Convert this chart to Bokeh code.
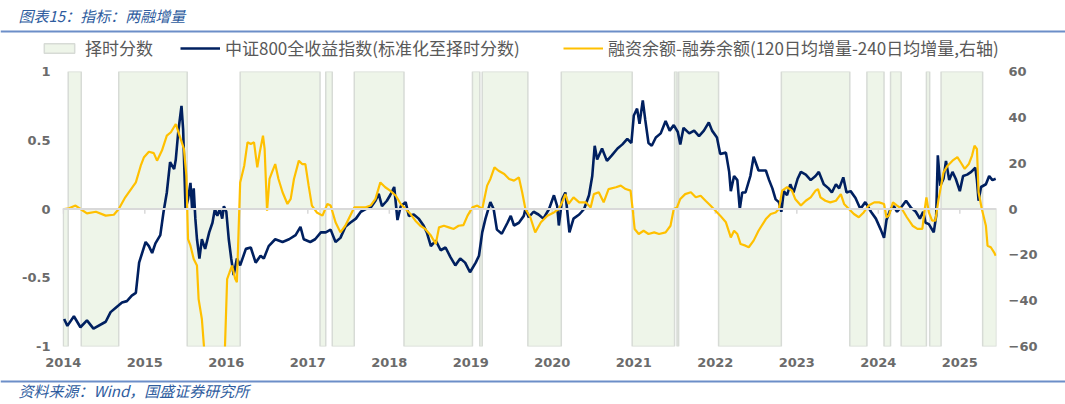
from bokeh.plotting import figure
from bokeh.layouts import column
from bokeh.models import (Range1d, LinearAxis, FixedTicker, Span, Label, Legend,
                          LegendItem, BoxAnnotation, ColumnDataSource)
from bokeh.embed import file_html
from bokeh.resources import INLINE

# ---------------- data ----------------
# timing score regime changes (decimal year) and score value (+1 / -1)
score_dates = [2014.00, 2014.06, 2014.22, 2014.68, 2015.52, 2016.17, 2017.15, 2017.22,
               2017.30, 2017.57, 2018.18, 2019.02, 2019.11, 2019.14, 2019.70, 2020.11,
               2020.98, 2021.50, 2021.53, 2021.55, 2022.04, 2022.81, 2023.65, 2023.86,
               2024.07, 2024.15, 2024.28, 2024.59, 2024.63, 2024.77, 2025.28]
score_sign = [-1, 1, -1, 1, -1, 1, -1, 1, -1, 1, -1, 1, -1, 1, -1, 1,
              -1, 1, -1, 1, -1, 1, -1, 1, -1, 1, -1, 1, -1, 1, -1]
score_end = 2025.45

# CSI 800 total return index, normalised to the score scale (left axis)
csi_t = [2014.01, 2014.05, 2014.13, 2014.21, 2014.29, 2014.37, 2014.52, 2014.58, 2014.64, 2014.72,
         2014.78, 2014.84, 2014.89, 2014.93, 2015.01, 2015.05, 2015.09, 2015.13, 2015.19, 2015.23,
         2015.27, 2015.31, 2015.36, 2015.38, 2015.41, 2015.45, 2015.47, 2015.50, 2015.53, 2015.56,
         2015.58, 2015.60, 2015.62, 2015.64, 2015.67, 2015.70, 2015.74, 2015.79, 2015.83, 2015.86,
         2015.89, 2015.92, 2015.95, 2015.97, 2016.00, 2016.03, 2016.06, 2016.09, 2016.13, 2016.17,
         2016.24, 2016.30, 2016.36, 2016.42, 2016.46, 2016.52, 2016.60, 2016.69, 2016.77,
         2016.85, 2016.91, 2016.95, 2017.03, 2017.09, 2017.16, 2017.22, 2017.28, 2017.34, 2017.40,
         2017.46, 2017.52, 2017.59, 2017.65, 2017.71, 2017.77, 2017.83, 2017.87, 2017.91, 2017.97,
         2018.01, 2018.06, 2018.10, 2018.14, 2018.20, 2018.24, 2018.30, 2018.36, 2018.42, 2018.46,
         2018.51, 2018.57, 2018.63, 2018.69, 2018.75, 2018.81, 2018.87, 2018.93, 2018.99, 2019.06,
         2019.10, 2019.14, 2019.18, 2019.24, 2019.28, 2019.32, 2019.38, 2019.45, 2019.49, 2019.53,
         2019.59, 2019.65, 2019.67, 2019.71, 2019.77, 2019.83, 2019.89, 2019.96, 2020.02, 2020.06,
         2020.08, 2020.12, 2020.16, 2020.21, 2020.26, 2020.33, 2020.39, 2020.45, 2020.49, 2020.52,
         2020.55, 2020.61, 2020.67, 2020.73, 2020.80, 2020.86, 2020.92, 2020.97, 2021.00, 2021.04,
         2021.07, 2021.11, 2021.14, 2021.18, 2021.22, 2021.27, 2021.33, 2021.39, 2021.44, 2021.49,
         2021.54, 2021.57, 2021.61, 2021.68, 2021.74, 2021.80, 2021.86, 2021.92, 2021.96, 2022.02,
         2022.06, 2022.13, 2022.17, 2022.19, 2022.23, 2022.27, 2022.30, 2022.33, 2022.37, 2022.43,
         2022.47, 2022.53, 2022.62, 2022.66, 2022.70, 2022.74, 2022.78, 2022.81, 2022.84, 2022.88,
         2022.92, 2022.96, 2023.01, 2023.05, 2023.11, 2023.17, 2023.23, 2023.27, 2023.33, 2023.39,
         2023.43, 2023.48, 2023.52, 2023.57, 2023.61, 2023.66, 2023.72, 2023.78, 2023.84, 2023.91,
         2023.97, 2024.03, 2024.07, 2024.10, 2024.15, 2024.19, 2024.23, 2024.29, 2024.34, 2024.40,
         2024.46, 2024.51, 2024.55, 2024.58, 2024.62, 2024.68, 2024.71, 2024.73, 2024.76, 2024.80,
         2024.83, 2024.87, 2024.91, 2024.95, 2025.00, 2025.04, 2025.09, 2025.14, 2025.19, 2025.21,
         2025.23, 2025.26, 2025.32, 2025.36, 2025.40, 2025.44]
csi_v = [-0.80, -0.85, -0.78, -0.86, -0.81, -0.87, -0.82, -0.75, -0.72, -0.68,
         -0.67, -0.63, -0.61, -0.39, -0.24, -0.27, -0.32, -0.25, -0.19, -0.02,
         0.12, 0.34, 0.29, 0.36, 0.56, 0.75, 0.58, 0.00, 0.07, 0.19,
         0.00, 0.15, -0.07, -0.22, -0.36, -0.22, -0.29, -0.17, -0.10, 0.00,
         -0.05, 0.00, -0.07, 0.02, -0.02, -0.22, -0.36, -0.48, -0.36, -0.41,
         -0.29, -0.28, -0.39, -0.34, -0.36, -0.27, -0.22, -0.24, -0.22,
         -0.19, -0.13, -0.22, -0.24, -0.22, -0.17, -0.17, -0.15, -0.24, -0.21,
         -0.13, -0.10, -0.07, -0.02, 0.00, 0.01, 0.06, 0.11, 0.02, 0.06,
         0.10, 0.16, -0.08, 0.02, 0.05, -0.05, -0.04, -0.07, -0.12, -0.17,
         -0.27, -0.23, -0.30, -0.28, -0.35, -0.41, -0.36, -0.39, -0.46, -0.39,
         -0.34, -0.17, -0.07, 0.05, 0.00, -0.15, -0.18, -0.10, -0.05, -0.12,
         -0.10, -0.05, 0.00, -0.06, -0.02, -0.04, -0.07, 0.00, 0.10, 0.02,
         -0.12, 0.07, 0.12, -0.17, -0.07, -0.04, 0.00, 0.10, 0.24, 0.46,
         0.36, 0.44, 0.35, 0.39, 0.44, 0.47, 0.51, 0.48, 0.68, 0.73,
         0.62, 0.79, 0.65, 0.48, 0.46, 0.52, 0.55, 0.64, 0.57, 0.61,
         0.56, 0.47, 0.59, 0.55, 0.57, 0.53, 0.57, 0.63, 0.57, 0.52,
         0.40, 0.41, 0.27, 0.13, 0.24, 0.21, 0.00, 0.12, 0.12, 0.24,
         0.38, 0.28, 0.28, 0.21, 0.15, 0.07, 0.05, -0.02, 0.13, 0.10,
         0.18, 0.12, 0.22, 0.27, 0.25, 0.21, 0.24, 0.27, 0.18, 0.15,
         0.12, 0.18, 0.15, 0.23, 0.12, 0.13, 0.08, 0.00, 0.05, -0.02,
         -0.07, -0.15, -0.21, -0.08, 0.00, 0.02, -0.02, 0.02, 0.06, 0.01,
         -0.02, -0.07, -0.02, -0.10, -0.11, -0.17, -0.05, 0.39, 0.17, 0.22,
         0.35, 0.21, 0.27, 0.22, 0.13, 0.24, 0.25, 0.27, 0.30, 0.21,
         0.06, 0.16, 0.18, 0.24, 0.21, 0.22]

# margin financing minus securities lending balance (120d avg increment - 240d avg increment, right axis)
margin_t = [2014.01, 2014.07, 2014.15, 2014.21, 2014.29, 2014.40, 2014.52, 2014.62, 2014.68, 2014.76,
            2014.89, 2014.95, 2014.99, 2015.05, 2015.11, 2015.15, 2015.21, 2015.27, 2015.32, 2015.38,
            2015.42, 2015.48, 2015.51, 2015.53, 2015.56, 2015.60, 2015.64, 2015.66, 2015.70, 2015.73,
            2015.86, 2015.98, 2016.01, 2016.04, 2016.07, 2016.11, 2016.13, 2016.15, 2016.17, 2016.22,
            2016.26, 2016.30, 2016.34, 2016.38, 2016.41, 2016.45, 2016.47, 2016.50, 2016.53, 2016.56,
            2016.60, 2016.64, 2016.69, 2016.75, 2016.79,
            2016.83, 2016.89, 2016.93, 2016.97, 2017.01, 2017.05, 2017.11, 2017.18, 2017.24, 2017.28,
            2017.34, 2017.40, 2017.46, 2017.52, 2017.57, 2017.65, 2017.71, 2017.77, 2017.83, 2017.89,
            2017.95, 2018.01, 2018.08, 2018.14, 2018.20, 2018.26, 2018.32, 2018.38, 2018.44, 2018.51,
            2018.57, 2018.61, 2018.67, 2018.73, 2018.79, 2018.85, 2018.91, 2018.96, 2019.02, 2019.08,
            2019.14, 2019.20, 2019.24, 2019.29, 2019.34, 2019.41, 2019.47, 2019.53, 2019.59, 2019.63,
            2019.67, 2019.73, 2019.79, 2019.86, 2019.94, 2020.02, 2020.08, 2020.12, 2020.16, 2020.20,
            2020.26, 2020.33, 2020.41, 2020.47, 2020.51, 2020.57, 2020.63, 2020.69, 2020.78, 2020.84,
            2020.90, 2020.96, 2020.99, 2021.01, 2021.06, 2021.12, 2021.18, 2021.25, 2021.31, 2021.39,
            2021.45, 2021.49, 2021.53, 2021.57, 2021.63, 2021.70, 2021.76, 2021.82, 2021.88, 2021.94,
            2022.00, 2022.06, 2022.13, 2022.19, 2022.23, 2022.27, 2022.31, 2022.37, 2022.41, 2022.47,
            2022.53, 2022.62, 2022.68, 2022.74, 2022.78, 2022.82, 2022.88, 2022.94, 2022.98, 2023.05,
            2023.11, 2023.17, 2023.23, 2023.26, 2023.29, 2023.35, 2023.41, 2023.48, 2023.54, 2023.58,
            2023.64, 2023.70, 2023.76, 2023.82, 2023.88, 2023.95, 2024.01, 2024.07, 2024.10, 2024.13,
            2024.18, 2024.23, 2024.29, 2024.35, 2024.42, 2024.48, 2024.54, 2024.57, 2024.59, 2024.62,
            2024.66, 2024.70, 2024.74, 2024.80, 2024.85, 2024.91, 2024.97, 2025.01, 2025.06, 2025.11,
            2025.15, 2025.18, 2025.21, 2025.23, 2025.27, 2025.32, 2025.34, 2025.38, 2025.42, 2025.44]
margin_v = [0.0, 0.3, 1.5, 0.0, -1.9, -1.2, -2.9, -2.5, 0.0, 5.1,
            11.6, 18.9, 22.6, 25.0, 24.4, 21.1, 25.5, 32.0, 33.5, 37.1,
            32.7, 26.2, 14.6, -13.1, -16.0, -21.8, -24.7, -39.3, -48.0, -62.0,
            -80.0, -64.0, -30.6, -27.6, -24.7, -30.6, -32.0, -10.2, 11.6, 18.9,
            29.1, 28.4, 29.1, 18.2, 24.7, 32.0, 26.2, -0.7, 13.1, 16.0,
            19.6, 13.1, 7.3, 2.2, 4.4,
            13.1, 21.1, 19.6, 19.6, 10.2, 1.5, -1.5, -2.9, 2.2, 1.5,
            -5.8, -10.2, -7.3, -2.9, 0.7, 0.7, 0.7, 1.5, 4.4, 11.6,
            9.5, 8.0, 5.8, 2.2, 0.0, -2.2, -5.1, -7.3, -8.7, -11.6,
            -15.3, -8.0, -7.3, -8.0, -8.7, -7.3, -7.0, -2.9, 0.7, 1.5,
            0.0, 10.2, 13.1, 18.2, 16.7, 15.3, 13.1, 12.4, 13.8, 7.3,
            0.0, -3.6, -10.2, -5.8, -2.9, -1.5, 0.0, 2.9, 6.5, 2.2,
            5.1, 2.9, 2.9, 0.7, 6.5, 7.3, 2.9, 8.7, 9.5, 10.2,
            8.7, 8.0, -1.5, -8.7, -10.9, -9.5, -10.9, -10.2, -10.9, -10.2,
            -7.3, 0.0, 0.7, 4.4, 6.5, 7.3, 5.1, 5.8, 3.6, 1.5,
            -0.7, -2.9, -5.8, -12.4, -9.5, -10.9, -15.3, -16.0, -16.7, -13.8,
            -9.5, -4.4, -2.2, -1.5, 0.0, 8.0, 9.5, 8.0, 4.4, 1.5,
            3.6, 5.1, 8.0, 8.7, 5.1, 3.6, 2.9, 3.6, 6.5, 2.2,
            0.0, -2.2, -3.6, -1.5, 1.5, 2.9, 2.9, 2.2, -3.6, -2.9,
            2.9, 1.5, 0.0, -3.6, -7.3, -8.7, -8.7, 0.0, 5.1, -1.5,
            -5.1, -5.1, 4.4, 16.0, 18.9, 21.1, 22.6, 20.4, 17.5, 19.6,
            23.3, 27.6, 26.2, 7.3, 0.0, -7.3, -16.0, -16.7, -18.9, -20.4]

year_ticks = list(range(2014, 2026))
left_ticks = [-1, -0.5, 0, 0.5, 1]
left_labels = ["-1", "-0.5", "0", "0.5", "1"]
right_ticks = [-60, -40, -20, 0, 20, 40, 60]

title_text = "图表15：指标：两融增量"
source_text = "资料来源：Wind，国盛证券研究所"
legend_labels = ["择时分数", "中证800全收益指数(标准化至择时分数)",
                 "融资余额-融券余额(120日均增量-240日均增量,右轴)"]

# ---------------- styling ----------------
NAVY = "#002060"
GOLD = "#FFC000"
SHADE = "#EEF5E9"
SHADE_LINE = "#D7DBD6"
AXIS_TXT = "#6B6B6B"
RULE = "#6C8EC8"
TITLE_C = "#2E5C9E"
CJK = "Noto Sans CJK SC"
W = 1065
HEAD_H, MAIN_H, FOOT_H = 63, 316, 25
ML, MR, MT, MB = 62, 69, 8, 33

score_style = dict(fill_color=SHADE, line_color=SHADE_LINE, line_width=1.5)
csi_style = dict(line_color=NAVY, line_width=2.6)
margin_style = dict(line_color=GOLD, line_width=2.2)

def bare(hgt):
    f = figure(width=W, height=hgt, output_backend="svg", toolbar_location=None,
               x_range=Range1d(0, 1), y_range=Range1d(0, 1),
               x_axis_type=None, y_axis_type=None,
               min_border_left=0, min_border_right=0, min_border_top=0, min_border_bottom=0)
    f.frame_align = False
    f.xgrid.visible = False
    f.ygrid.visible = False
    f.outline_line_color = None
    f.background_fill_color = "white"
    f.border_fill_color = "white"
    return f

rights = score_dates[1:] + [score_end]
score_src = ColumnDataSource(dict(
    left=score_dates, right=rights,
    top=[max(0, s) for s in score_sign],
    bottom=[min(0, s) for s in score_sign]))

# ---------------- main chart ----------------
p = figure(width=W, height=MAIN_H, output_backend="svg", toolbar_location=None,
           x_range=Range1d(2013.99, 2025.45), y_range=Range1d(-1, 1),
           min_border_left=ML, min_border_right=MR, min_border_top=MT, min_border_bottom=MB)
p.frame_align = False
p.extra_y_ranges = {"right": Range1d(-60, 60)}
p.xgrid.visible = False
p.ygrid.visible = False
p.outline_line_color = None
p.background_fill_color = "white"
p.border_fill_color = "white"

def style_axis(ax, standoff):
    ax.axis_line_color = None
    ax.major_tick_line_color = None
    ax.minor_tick_line_color = None
    ax.major_tick_out = 0
    ax.major_tick_in = 0
    ax.major_label_standoff = standoff
    ax.major_label_text_font = "DejaVu Sans"
    ax.major_label_text_font_style = "bold"
    ax.major_label_text_font_size = "13px"
    ax.major_label_text_color = AXIS_TXT

xa = p.xaxis[0]
xa.ticker = FixedTicker(ticks=year_ticks)
style_axis(xa, 11)

ya = p.yaxis[0]
ya.ticker = FixedTicker(ticks=left_ticks)
ya.major_label_overrides = {t: s for t, s in zip(left_ticks, left_labels)}
style_axis(ya, 12)

yr = LinearAxis(y_range_name="right", ticker=FixedTicker(ticks=right_ticks))
style_axis(yr, 12)
p.add_layout(yr, "right")

p.quad(left="left", right="right", top="top", bottom="bottom", source=score_src, **score_style)

p.add_layout(Span(location=0, dimension="width", line_color="#D9D9D9", line_width=2))
p.segment(x0=year_ticks, y0=[0] * len(year_ticks), x1=year_ticks,
          y1=[-0.035] * len(year_ticks), line_color="#D9D9D9", line_width=1.5)

p.line(csi_t, csi_v, **csi_style)
p.line(margin_t, margin_v, y_range_name="right", **margin_style)

# ---------------- header: title, rule, legend ----------------
h = bare(HEAD_H)
h.add_layout(Label(x=18, y=HEAD_H - 15, x_units="screen", y_units="screen",
                   text=title_text, text_font=CJK, text_font_style="italic",
                   text_font_size="15px", text_color=TITLE_C, text_baseline="middle"))
h.add_layout(BoxAnnotation(left=0, right=W, bottom=HEAD_H - 32, top=HEAD_H - 30,
                           left_units="screen", right_units="screen",
                           bottom_units="screen", top_units="screen",
                           fill_color=RULE, fill_alpha=1, line_color=None))

# legend keys: the same series, drawn in the header (their data lies outside its view)
k_score = h.quad(left="left", right="right", top="top", bottom="bottom",
                 source=score_src, **score_style)
k_csi = h.line(csi_t, csi_v, **csi_style)
k_margin = h.line(margin_t, margin_v, **margin_style)

def add_legend(label, rend, page_x, gw, gh, standoff):
    lg = Legend(items=[LegendItem(label=label, renderers=[rend])],
                location=(page_x, HEAD_H - 50 - 10),
                orientation="horizontal", glyph_width=gw, glyph_height=gh,
                label_height=20, label_standoff=standoff, padding=0, margin=0, spacing=0,
                border_line_color=None, background_fill_alpha=0,
                label_text_font=CJK, label_text_font_size="17px",
                label_text_color="#595959")
    h.add_layout(lg, "center")

add_legend(legend_labels[0], k_score, 40, 38, 12, 7)
add_legend(legend_labels[1], k_csi, 180, 40, 20, 5)
add_legend(legend_labels[2], k_margin, 563, 40, 20, 5)

# ---------------- footer: rule and source ----------------
ft = bare(FOOT_H)
ft.add_layout(BoxAnnotation(left=0, right=W, bottom=FOOT_H - 3, top=FOOT_H - 1,
                            left_units="screen", right_units="screen",
                            bottom_units="screen", top_units="screen",
                            fill_color=RULE, fill_alpha=1, line_color=None))
ft.add_layout(Label(x=18, y=FOOT_H - 11, x_units="screen", y_units="screen",
                    text=source_text, text_font=CJK, text_font_style="italic",
                    text_font_size="15px", text_color=TITLE_C, text_baseline="middle"))

layout = column(h, p, ft, spacing=0)
open("out.html", "w").write(file_html(layout, INLINE))
